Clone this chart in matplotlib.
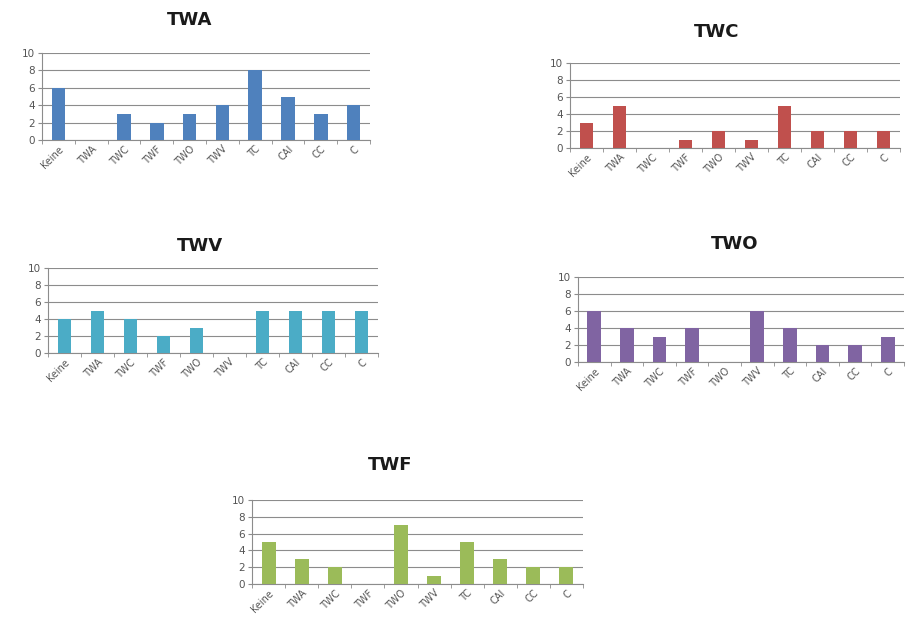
import numpy as np
import matplotlib.pyplot as plt

# categories shared by all five charts
categories = ["Keine", "TWA", "TWC", "TWF", "TWO", "TWV", "TC", "CAI", "CC", "C"]

twa_values = [6, 0, 3, 2, 3, 4, 8, 5, 3, 4]
twc_values = [3, 5, 0, 1, 2, 1, 5, 2, 2, 2]
twv_values = [4, 5, 4, 2, 3, 0, 5, 5, 5, 5]
two_values = [6, 4, 3, 4, 0, 6, 4, 2, 2, 3]
twf_values = [5, 3, 2, 0, 7, 1, 5, 3, 2, 2]

W, H = 907, 631

# (title, values, colour, left px, right px, top(10) px, bottom(0) px, title x, title y)
panels = [
    ("TWA", twa_values, "#4F81BD", 42, 370, 53, 140, 190, 20),
    ("TWC", twc_values, "#C0504D", 570, 900, 63, 148, 717, 32),
    ("TWV", twv_values, "#4BACC6", 48, 378, 268, 353, 200, 246),
    ("TWO", two_values, "#8064A2", 578, 904, 277, 362, 735, 244),
    ("TWF", twf_values, "#9BBB59", 252, 583, 500, 584, 390, 465),
]

fig = plt.figure(figsize=(W / 100, H / 100), dpi=100)
fig.patch.set_facecolor("white")

for title, vals, color, x0, x1, y10, y0, tx, ty in panels:
    ax = fig.add_axes([x0 / W, 1 - y0 / H, (x1 - x0) / W, (y0 - y10) / H])
    x = np.arange(len(categories))
    ax.bar(x, vals, width=0.42, color=color, zorder=3)
    ax.set_xlim(-0.5, len(categories) - 0.5)
    ax.set_ylim(0, 10)
    ax.set_yticks(range(0, 11, 2))
    ax.yaxis.grid(True, color="#8c8c8c", linewidth=0.8, zorder=0)
    ax.set_xticks(x)
    ax.set_xticklabels(categories, rotation=45, ha="right", rotation_mode="anchor",
                       fontsize=7, color="#555555")
    ax.set_xticks(np.arange(-0.5, len(categories), 1), minor=True)
    ax.tick_params(axis="x", which="major", length=0, pad=3)
    ax.tick_params(axis="x", which="minor", length=3, color="#8c8c8c", direction="out")
    ax.tick_params(axis="y", length=3, color="#8c8c8c", labelsize=7.5,
                   labelcolor="#555555", pad=2)
    for side in ["top", "right"]:
        ax.spines[side].set_visible(False)
    for side in ["left", "bottom"]:
        ax.spines[side].set_color("#8c8c8c")
        ax.spines[side].set_linewidth(0.8)
    fig.text(tx / W, 1 - ty / H, title, ha="center", va="center",
             fontsize=13, fontweight="bold", color="#1a1a1a")

fig.savefig("out.png", dpi=100, facecolor="white")
